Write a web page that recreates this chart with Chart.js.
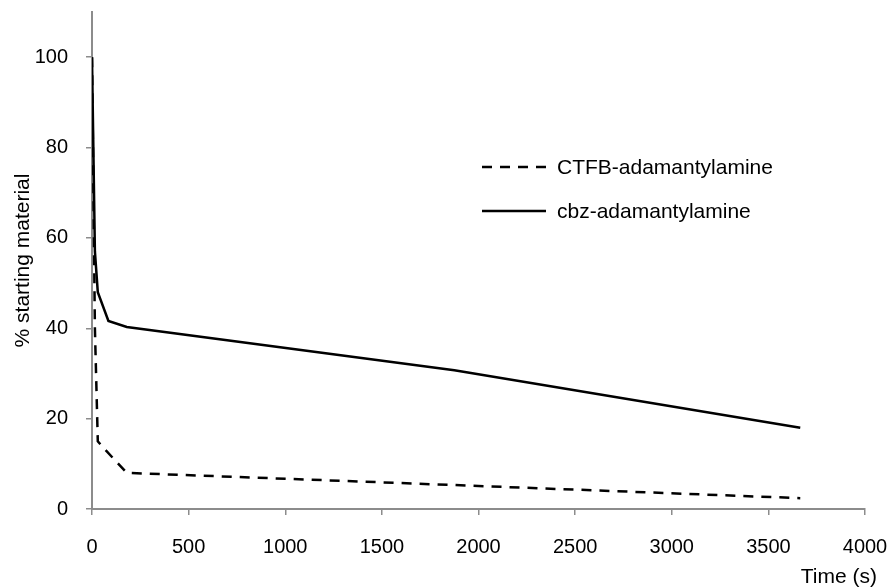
<!DOCTYPE html>
<html lang="en">
<head>
    <meta charset="UTF-8">
    <title>% starting material vs time</title>
    <script src="https://cdn.jsdelivr.net/npm/chart.js@4.4.1/dist/chart.umd.min.js"></script>
    <style>
        html, body { margin: 0; padding: 0; background: #fff; }
        #wrap { width: 891px; height: 587px; position: relative; }
    </style>
</head>
<body>
    <div id="wrap"><canvas id="chart"></canvas></div>

    <script>
        // data
        const ctfbTime = [0, 15, 30, 60, 180, 1875, 3665];
        const ctfbValues = [100, 40, 15, 13.5, 8, 5.3, 2.4];
        const cbzTime = [0, 15, 30, 85, 180, 1875, 3665];
        const cbzValues = [100, 57, 48, 41.6, 40.3, 30.7, 18];
        const seriesLabels = ['CTFB-adamantylamine', 'cbz-adamantylamine'];
        const xTicks = [0, 500, 1000, 1500, 2000, 2500, 3000, 3500, 4000];
        const yTicks = [0, 20, 40, 60, 80, 100];
        const xTitle = 'Time (s)';
        const yTitle = '% starting material';

        const axisGrey = '#8c8c8c';
        const family = '"Liberation Sans", Arial, sans-serif';
        const tickFont = { family: family, size: 20 };
        const titleFont = { family: family, size: 21 };

        function toPoints(xs, ys) {
            return xs.map((x, i) => ({ x: x, y: ys[i] }));
        }

        // legend inside the plot + the x title hanging past the axis end
        const extras = {
            id: 'extras',
            afterDraw(chart) {
                const c = chart.ctx;
                const rows = [
                    { label: seriesLabels[0], dash: [10, 8], y: 167 },
                    { label: seriesLabels[1], dash: [], y: 211 }
                ];
                c.save();
                c.font = '21px ' + family;
                c.fillStyle = '#000';
                c.textBaseline = 'middle';
                rows.forEach(r => {
                    c.beginPath();
                    c.setLineDash(r.dash);
                    c.lineWidth = 2.5;
                    c.strokeStyle = '#000';
                    c.moveTo(482, r.y);
                    c.lineTo(546, r.y);
                    c.stroke();
                    c.fillText(r.label, 557, r.y + 1);
                });
                c.textAlign = 'right';
                c.fillText(xTitle, 877, 577);
                c.restore();
            }
        };

        new Chart(document.getElementById('chart'), {
            type: 'line',
            data: {
                datasets: [
                    {
                        label: seriesLabels[0],
                        data: toPoints(ctfbTime, ctfbValues),
                        borderColor: '#000',
                        borderWidth: 2.5,
                        borderDash: [10, 8],
                        pointRadius: 0,
                        tension: 0,
                        fill: false
                    },
                    {
                        label: seriesLabels[1],
                        data: toPoints(cbzTime, cbzValues),
                        borderColor: '#000',
                        borderWidth: 2.5,
                        pointRadius: 0,
                        tension: 0,
                        fill: false
                    }
                ]
            },
            options: {
                responsive: true,
                maintainAspectRatio: false,
                animation: false,
                layout: { padding: { top: 12, right: 26, bottom: 0, left: 0 } },
                plugins: {
                    legend: { display: false },
                    tooltip: { enabled: false }
                },
                scales: {
                    x: {
                        type: 'linear',
                        min: 0,
                        max: 4000,
                        afterBuildTicks: s => { s.ticks = xTicks.map(v => ({ value: v })); },
                        ticks: { color: '#000', font: tickFont, padding: 20, maxRotation: 0, callback: v => String(v) },
                        grid: { drawOnChartArea: false, color: axisGrey, tickLength: 6, lineWidth: 1.5 },
                        border: { color: axisGrey, width: 2 },
                        afterFit: s => { s.height = 78; s.paddingLeft = 0; s.paddingRight = 0; }
                    },
                    y: {
                        min: 0,
                        max: 110,
                        afterBuildTicks: s => { s.ticks = yTicks.map(v => ({ value: v })); },
                        ticks: { color: '#000', font: tickFont, padding: 18 },
                        grid: { drawOnChartArea: false, color: axisGrey, tickLength: 6, lineWidth: 1.5 },
                        border: { color: axisGrey, width: 2 },
                        title: { display: true, text: yTitle, color: '#000', font: titleFont, padding: { top: 11, bottom: 0 } },
                        afterFit: s => { s.width = 92; s.paddingTop = 0; s.paddingBottom = 0; }
                    }
                }
            },
            plugins: [extras]
        });
    </script>
</body>
</html>
